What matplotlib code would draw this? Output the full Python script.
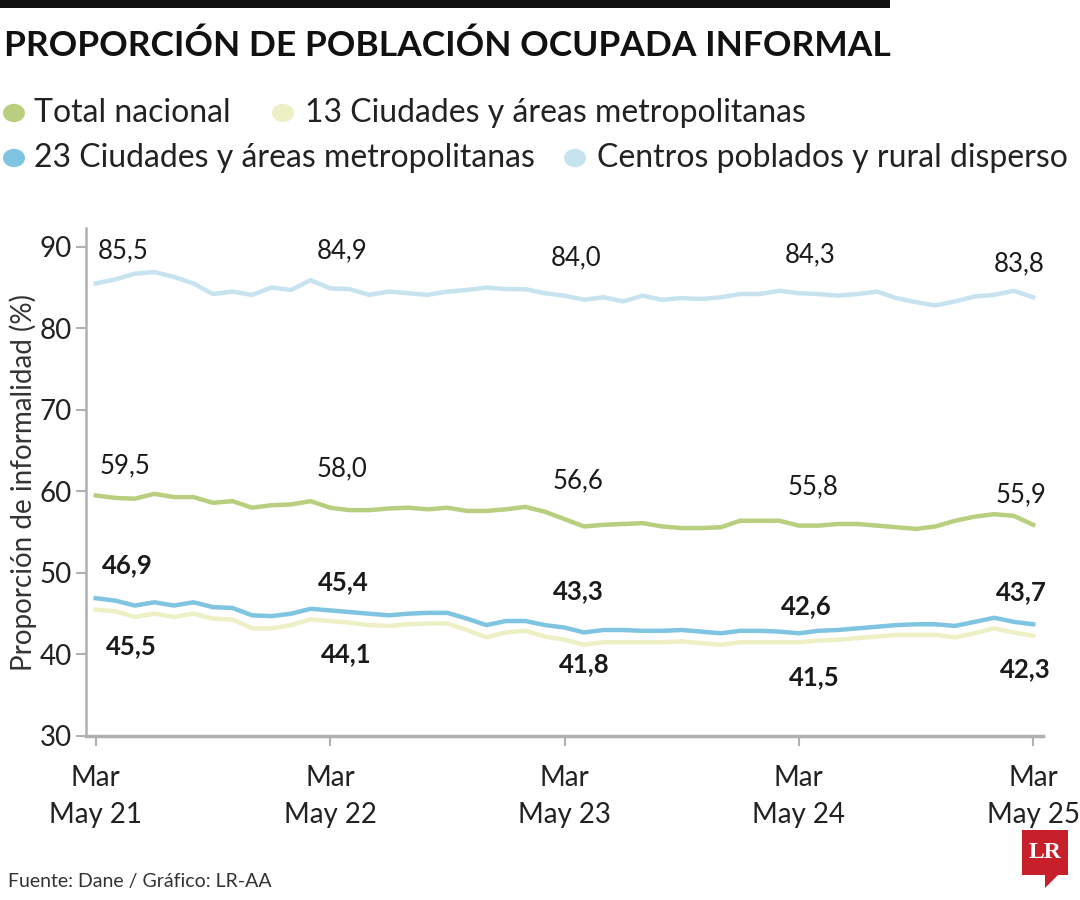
import matplotlib.pyplot as plt
from matplotlib.patches import Polygon, Rectangle, Circle
import numpy as np

# trimestres móviles mar-may 2021 ... mar-may 2025
meses = np.arange(49)
tick_pos = [0, 12, 24, 36, 48]
tick_labels = ['Mar\nMay 21', 'Mar\nMay 22', 'Mar\nMay 23', 'Mar\nMay 24', 'Mar\nMay 25']

rural = [85.5, 86.0, 86.7, 86.9, 86.3, 85.5, 84.2, 84.5, 84.1, 85.0,
         84.7, 85.9, 84.9, 84.8, 84.1, 84.5, 84.3, 84.1, 84.5, 84.7,
         85.0, 84.8, 84.8, 84.3, 84.0, 83.5, 83.8, 83.3, 84.0, 83.5,
         83.7, 83.6, 83.8, 84.2, 84.2, 84.6, 84.3, 84.2, 84.0, 84.2,
         84.5, 83.7, 83.2, 82.8, 83.3, 83.9, 84.1, 84.6, 83.8]
total = [59.5, 59.2, 59.1, 59.7, 59.3, 59.3, 58.6, 58.8, 58.0, 58.3,
         58.4, 58.8, 58.0, 57.7, 57.7, 57.9, 58.0, 57.8, 58.0, 57.6,
         57.6, 57.8, 58.1, 57.5, 56.6, 55.7, 55.9, 56.0, 56.1, 55.7,
         55.5, 55.5, 55.6, 56.4, 56.4, 56.4, 55.8, 55.8, 56.0, 56.0,
         55.8, 55.6, 55.4, 55.7, 56.4, 56.9, 57.2, 57.0, 55.9]
ciud23 = [46.9, 46.6, 46.0, 46.4, 46.0, 46.4, 45.8, 45.7, 44.8, 44.7,
          45.0, 45.6, 45.4, 45.2, 45.0, 44.8, 45.0, 45.1, 45.1, 44.4,
          43.6, 44.1, 44.1, 43.6, 43.3, 42.7, 43.0, 43.0, 42.9, 42.9,
          43.0, 42.8, 42.6, 42.9, 42.9, 42.8, 42.6, 42.9, 43.0, 43.2,
          43.4, 43.6, 43.7, 43.7, 43.5, 44.0, 44.5, 44.0, 43.7]
ciud13 = [45.5, 45.3, 44.6, 45.0, 44.6, 45.0, 44.4, 44.3, 43.2, 43.2,
          43.6, 44.3, 44.1, 43.9, 43.6, 43.5, 43.7, 43.8, 43.8, 43.0,
          42.1, 42.7, 42.9, 42.2, 41.8, 41.2, 41.5, 41.5, 41.5, 41.5,
          41.6, 41.4, 41.2, 41.5, 41.5, 41.5, 41.5, 41.7, 41.8, 42.0,
          42.2, 42.4, 42.4, 42.4, 42.1, 42.6, 43.2, 42.7, 42.3]

c_total = '#b7cf7e'
c_13 = '#ecf0c4'
c_23 = '#7fc4e0'
c_rural = '#c6e3ef'
gris = '#b0b0b0'

plt.rcParams['font.family'] = ['Lato', 'DejaVu Sans']

fig = plt.figure(figsize=(10.8, 9), dpi=100)
ax = fig.add_axes([86/1080, 1 - 736/900, (1043 - 86)/1080, (736 - 228)/900])

ax.plot(meses, rural, color=c_rural, lw=3.2, solid_joinstyle='round')
ax.plot(meses, total, color=c_total, lw=3.2, solid_joinstyle='round')
ax.plot(meses, ciud13, color=c_13, lw=3.2, solid_joinstyle='round')
ax.plot(meses, ciud23, color=c_23, lw=3.2, solid_joinstyle='round')

def etiquetas(serie, offs, ys, bold):
    for i, x in enumerate(tick_pos):
        v = serie[x]
        ax.text(x + offs[i], ys[i], f'{v:.1f}'.replace('.', ','), ha='center', va='center',
                fontsize=18.5, fontweight='bold' if bold else 'normal', color='#1a1a1a')

etiquetas(rural, [1.4, 0.6, 0.6, 0.6, -0.7], [89.5, 89.45, 88.7, 89.0, 87.9], False)
etiquetas(total, [1.5, 0.6, 0.7, 0.7, -0.6], [63.1, 62.8, 61.3, 60.55, 59.6], False)
etiquetas(ciud23, [1.6, 0.65, 0.7, 0.4, -0.6], [50.9, 48.9, 47.8, 45.95, 47.7], True)
etiquetas(ciud13, [1.8, 0.8, 1.0, 0.8, -0.4], [41.0, 40.06, 38.83, 37.2, 38.2], True)

ax.set_xlim(-0.5, 48.5)
ax.set_ylim(30, 92.3)
ax.set_yticks([30, 40, 50, 60, 70, 80, 90])
ax.set_xticks(tick_pos)
ax.set_xticklabels(tick_labels, linespacing=1.5)
ax.tick_params(axis='both', colors=gris, labelcolor='#222222', labelsize=20, width=1.5, length=7)
ax.tick_params(axis='x', pad=14)
ax.tick_params(axis='y', pad=3)
for s in ['top', 'right']:
    ax.spines[s].set_visible(False)
ax.spines['left'].set_color(gris)
ax.spines['left'].set_linewidth(1.8)
ax.spines['bottom'].set_color(gris)
ax.spines['bottom'].set_linewidth(2.5)
ax.set_ylabel('Proporción de informalidad (%)', fontsize=20, color='#333333', labelpad=2)

# barra negra y título
fig.add_artist(Rectangle((0, 1 - 8/900), 890/1080, 8/900, transform=fig.transFigure,
                         color='#111111', lw=0))
fig.text(4/1080, 1 - 46/900, 'PROPORCIÓN DE POBLACIÓN OCUPADA INFORMAL', fontsize=25.5,
         fontweight='bold', va='center', ha='left', color='#111111')

# leyenda
items = [(14, 113, 34, c_total, 'Total nacional'),
         (283, 113, 305, c_13, '13 Ciudades y áreas metropolitanas'),
         (14, 158, 34, c_23, '23 Ciudades y áreas metropolitanas'),
         (575, 158, 597, c_rural, 'Centros poblados y rural disperso')]
for dx, dy, tx, col, lab in items:
    fig.add_artist(Circle((dx/1080, 1 - dy/900), 11/1080, transform=fig.transFigure,
                          color=col, lw=0))
    fig.text(tx/1080, 1 - dy/900, lab, fontsize=23, color='#222222', ha='left', va='center')

fig.text(8/1080, 1 - 882/900, 'Fuente: Dane / Gráfico: LR-AA', fontsize=14, color='#333333',
         ha='left', va='center')

# logo LR
logo = [(1022, 830), (1068, 830), (1068, 875), (1058, 875), (1045, 888), (1045, 875), (1022, 875)]
fig.add_artist(Polygon([(x/1080, 1 - y/900) for x, y in logo], closed=True,
                       transform=fig.transFigure, color='#c8202a', lw=0))
fig.text(1045/1080, 1 - 852/900, 'LR', fontsize=17, color='white', fontweight='bold',
         ha='center', va='center', family=['Liberation Serif', 'DejaVu Serif'])

fig.savefig('out.png', dpi=100)
